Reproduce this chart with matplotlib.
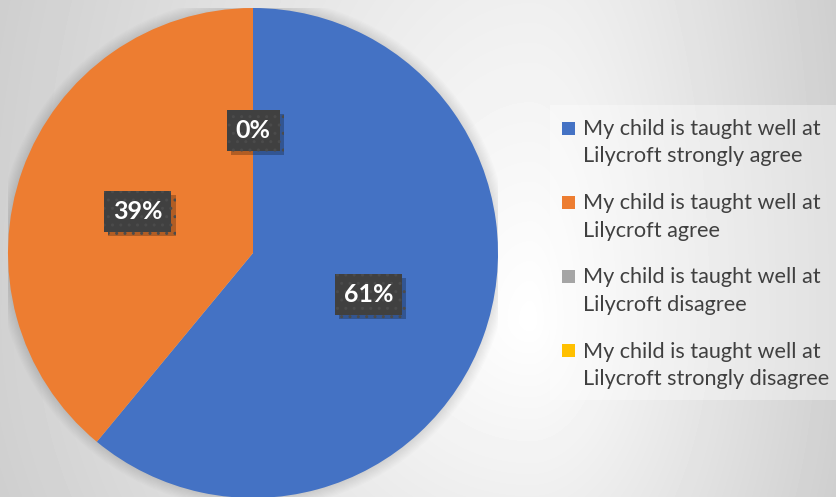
import numpy as np
import matplotlib
matplotlib.use("Agg")
import matplotlib.pyplot as plt
import matplotlib.patheffects as pe
from matplotlib.patches import Rectangle, Circle

labels = [
    "My child is taught well at\nLilycroft strongly agree",
    "My child is taught well at\nLilycroft agree",
    "My child is taught well at\nLilycroft disagree",
    "My child is taught well at\nLilycroft strongly disagree",
]
values = [61, 39, 0, 0]
colors = ["#4472C4", "#ED7D31", "#A5A5A5", "#FFC000"]

W, H = 836, 497
fig = plt.figure(figsize=(W / 100, H / 100), dpi=100)

# background gradient (light toward the middle-right, grey at corners)
bg = fig.add_axes([0, 0, 1, 1])
xx, yy = np.meshgrid(np.arange(W), np.arange(H))
cx, cy = 530, 320
nx = np.where(xx < cx, (cx - xx) / cx, (xx - cx) / (W - cx))
ny = np.where(yy < cy, (cy - yy) / cy, (yy - cy) / (H - cy))
r = np.sqrt(nx ** 2 + (0.35 * ny) ** 2)
v = 1 - 0.18 * np.clip(r, 0, 1.2)
bg.imshow(v, cmap="gray", vmin=0, vmax=1, extent=[0, W, H, 0], aspect="auto")
bg.set_xlim(0, W)
bg.set_ylim(H, 0)
bg.axis("off")

# legend panel
bg.add_patch(Rectangle((550, 105), 286, 295, facecolor="white", alpha=0.35, lw=0))

# pie
pcx, pcy, rad = 253, 253, 245
ax = fig.add_axes([(pcx - rad) / W, (H - pcy - rad) / H, 2 * rad / W, 2 * rad / H])

# soft shadow around the pie
for i in range(10):
    ax.add_patch(Circle((0, 0), 1 + i * 0.005, color="black", alpha=0.012, lw=0, zorder=0))

wedges, texts, autotexts = ax.pie(
    values,
    colors=colors,
    startangle=90,
    counterclock=False,
    autopct="%.0f%%",
    pctdistance=0.5,
    radius=1,
    wedgeprops=dict(linewidth=0),
    frame=True,
)
ax.set_xlim(-1, 1)
ax.set_ylim(-1, 1)
ax.axis("off")

seen_zero = False
for t, val in zip(autotexts, values):
    # zero slices share one spot; show a single label there
    if val == 0:
        if seen_zero:
            t.set_visible(False)
            continue
        seen_zero = True
    t.set_fontfamily("Lato")
    t.set_fontweight("bold")
    t.set_fontsize(18)
    t.set_color("white")
    t.set_bbox(dict(boxstyle="square,pad=0.36", facecolor="#404040",
                    edgecolor="#4b4b4b", linewidth=0, hatch=".."))
    t.get_bbox_patch().set_path_effects(
        [pe.SimplePatchShadow(offset=(3, -3), shadow_rgbFace="black", alpha=0.25), pe.Normal()]
    )

# legend
y0 = 142.5
step = 74.3
for i, (lab, col) in enumerate(zip(labels, colors)):
    y = y0 + i * step
    bg.add_patch(Rectangle((562, y - 21), 13, 13, facecolor=col, lw=0))
    bg.text(583, y, lab, fontsize=15.6, family="Lato", color="#404040",
            va="center", ha="left", linespacing=1.48)

fig.savefig("out.png", dpi=100)
